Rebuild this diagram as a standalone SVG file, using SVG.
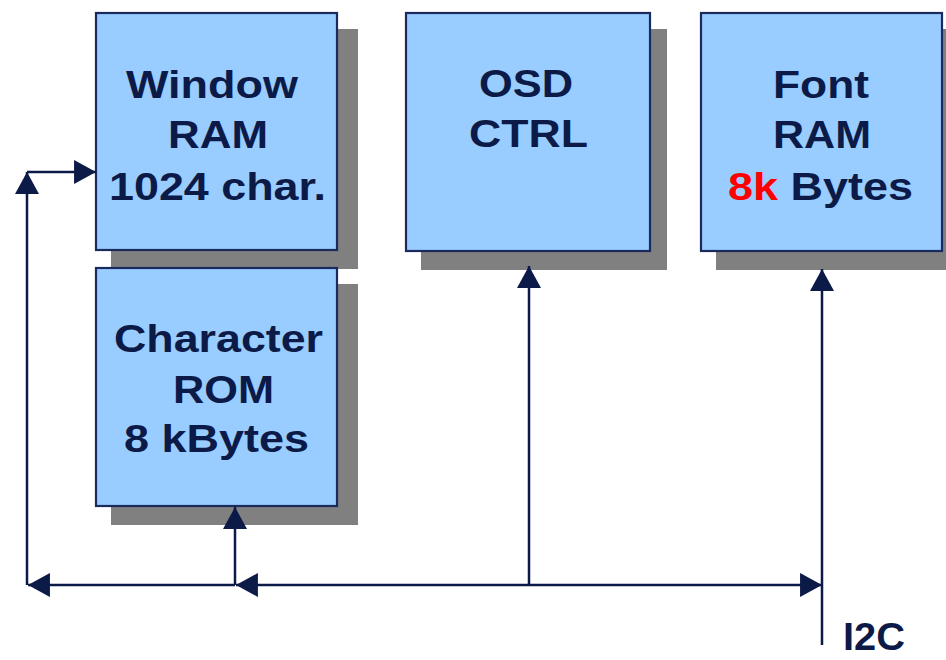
<svg xmlns="http://www.w3.org/2000/svg" width="946" height="660" viewBox="0 0 946 660">
  <style>
    .shadow { fill: #808080; }
    .box { fill: #99ccff; stroke: #1a2a5c; stroke-width: 2.2; }
    .lbl { font-family: "Liberation Sans", Arial, sans-serif; font-weight: bold; font-size: 39px; fill: #0c1a48; text-anchor: middle; }
    .red { fill: #ff0000; }
    .wire { stroke: #0c1a48; stroke-width: 2.5; fill: none; }
  </style>
  <defs>
    <marker id="arr" markerUnits="userSpaceOnUse" markerWidth="24" markerHeight="24" viewBox="0 0 21 23" refX="21" refY="11.5" orient="auto-start-reverse">
      <path d="M0,0 L21,11.5 L0,23 Z" fill="#0c1a48"/>
    </marker>
  </defs>
  <rect width="946" height="660" fill="#ffffff"/>

  <g id="window-ram">
    <rect class="shadow" x="111" y="29" width="247" height="240"/>
    <rect class="box" x="96" y="13" width="241" height="237"/>
    <text class="lbl" x="212" y="98" textLength="172" lengthAdjust="spacingAndGlyphs">Window</text>
    <text class="lbl" x="218" y="148" textLength="100" lengthAdjust="spacingAndGlyphs">RAM</text>
    <text class="lbl" x="217.5" y="200" textLength="217" lengthAdjust="spacingAndGlyphs">1024 char.</text>
  </g>

  <g id="character-rom">
    <rect class="shadow" x="111" y="284" width="247" height="241"/>
    <rect class="box" x="96" y="268" width="241" height="238"/>
    <text class="lbl" x="218.5" y="352" textLength="209" lengthAdjust="spacingAndGlyphs">Character</text>
    <text class="lbl" x="223.5" y="403" textLength="101" lengthAdjust="spacingAndGlyphs">ROM</text>
    <text class="lbl" x="216.5" y="452" textLength="185" lengthAdjust="spacingAndGlyphs">8 kBytes</text>
  </g>

  <g id="osd-ctrl">
    <rect class="shadow" x="421" y="29" width="246" height="241"/>
    <rect class="box" x="406" y="13" width="244" height="238"/>
    <text class="lbl" x="526" y="97" textLength="94" lengthAdjust="spacingAndGlyphs">OSD</text>
    <text class="lbl" x="528.5" y="147" textLength="119" lengthAdjust="spacingAndGlyphs">CTRL</text>
  </g>

  <g id="font-ram">
    <rect class="shadow" x="716" y="29" width="240" height="241"/>
    <rect class="box" x="701" y="13" width="241" height="238"/>
    <text class="lbl" x="821" y="98" textLength="96" lengthAdjust="spacingAndGlyphs">Font</text>
    <text class="lbl" x="822" y="148" textLength="98" lengthAdjust="spacingAndGlyphs">RAM</text>
    <text class="lbl" x="820.5" y="200" textLength="185" lengthAdjust="spacingAndGlyphs"><tspan class="red">8k</tspan> Bytes</text>
  </g>

  <g id="connectors">
    <line class="wire" x1="27" y1="585" x2="27" y2="172" marker-end="url(#arr)"/>
    <line class="wire" x1="27" y1="172" x2="96" y2="172" marker-end="url(#arr)"/>
    <line class="wire" x1="235" y1="585" x2="28" y2="585" marker-end="url(#arr)"/>
    <line class="wire" x1="235" y1="585" x2="235" y2="507" marker-end="url(#arr)"/>
    <line class="wire" x1="236" y1="585" x2="822" y2="585" marker-start="url(#arr)" marker-end="url(#arr)"/>
    <line class="wire" x1="529" y1="585" x2="529" y2="266" marker-end="url(#arr)"/>
    <line class="wire" x1="822" y1="645" x2="822" y2="269" marker-end="url(#arr)"/>
  </g>

  <g id="i2c-label">
    <text class="lbl" x="874" y="650" font-size="36" textLength="62" lengthAdjust="spacingAndGlyphs">I2C</text>
  </g>
</svg>
